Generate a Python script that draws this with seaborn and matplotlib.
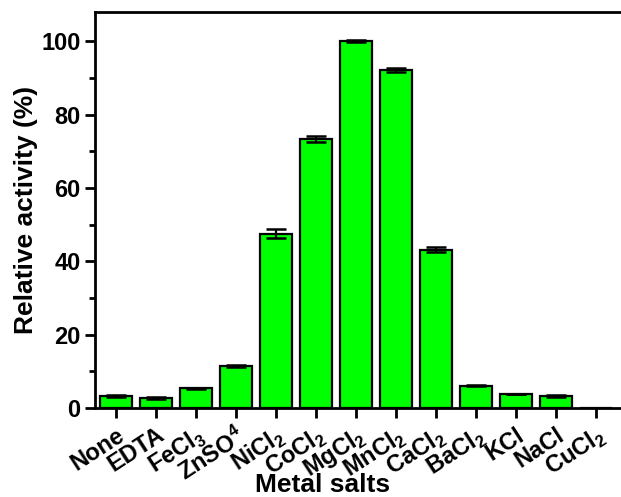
import numpy as np
import pandas as pd
import matplotlib
matplotlib.use("Agg")
import matplotlib.pyplot as plt
import seaborn as sns
from matplotlib.ticker import MultipleLocator

# data
salts = ["None", "EDTA", r"FeCl$_\mathbf{3}$", r"ZnSO$^\mathbf{4}$", r"NiCl$_\mathbf{2}$",
         r"CoCl$_\mathbf{2}$", r"MgCl$_\mathbf{2}$", r"MnCl$_\mathbf{2}$", r"CaCl$_\mathbf{2}$",
         r"BaCl$_\mathbf{2}$", "KCl", "NaCl", r"CuCl$_\mathbf{2}$"]
activity = [3.2, 2.8, 5.4, 11.5, 47.5, 73.3, 100.0, 92.2, 43.2, 6.1, 3.8, 3.3, 0.0]
errors = [0.3, 0.2, 0.1, 0.3, 1.2, 0.8, 0.3, 0.6, 0.7, 0.2, 0.1, 0.2, 0.0]

sns.set_style("ticks")
plt.rcParams['font.family'] = ['Liberation Sans', 'DejaVu Sans']
plt.rcParams['font.weight'] = 'bold'
plt.rcParams['text.color'] = 'black'
plt.rcParams['axes.labelcolor'] = 'black'
plt.rcParams['xtick.color'] = 'black'
plt.rcParams['ytick.color'] = 'black'
plt.rcParams['mathtext.fontset'] = 'custom'
plt.rcParams['mathtext.rm'] = 'Liberation Sans'
plt.rcParams['mathtext.bf'] = 'Liberation Sans:bold'

df = pd.DataFrame({"salt": salts, "activity": activity, "err": errors})

fig = plt.figure(figsize=(6.21, 4.97), dpi=100)
ax = fig.add_axes([0.153, 0.179, 0.847, 0.797])

sns.barplot(data=df, x="salt", y="activity", color="#00FF00", saturation=1,
            edgecolor="black", linewidth=1.6, width=0.8, ax=ax)

# error bars on top of each bar
pos = np.arange(len(salts))
ax.errorbar(pos, df["activity"], yerr=df["err"], fmt="none", ecolor="black",
            elinewidth=1.6, capsize=7, capthick=1.8, zorder=5)

ax.set_xlim(-0.52, 12.62)
ax.set_ylim(0, 108)
ax.yaxis.set_major_locator(MultipleLocator(20))
ax.yaxis.set_minor_locator(MultipleLocator(10))

for side in ["left", "bottom", "top"]:
    ax.spines[side].set_linewidth(2)
    ax.spines[side].set_color("black")
ax.spines["right"].set_visible(False)

ax.tick_params(axis="both", which="major", direction="out", length=7, width=2,
               labelsize=17, color="black", labelcolor="black")
ax.tick_params(axis="y", which="minor", direction="out", length=4, width=2, color="black")
ax.tick_params(axis="x", pad=4)
ax.tick_params(top=False, right=False)

for lab in ax.get_yticklabels():
    lab.set_fontweight("bold")
ax.set_xticks(pos)
ax.set_xticklabels(salts, rotation=33, ha="right", rotation_mode="anchor",
                   fontsize=17, fontweight="bold")

ax.set_xlabel("Metal salts", fontsize=19, fontweight="bold")
ax.xaxis.set_label_coords(0.432, -0.163)
ax.set_ylabel("Relative activity (%)", fontsize=19, fontweight="bold", labelpad=2)

fig.savefig("out.png", dpi=100)
